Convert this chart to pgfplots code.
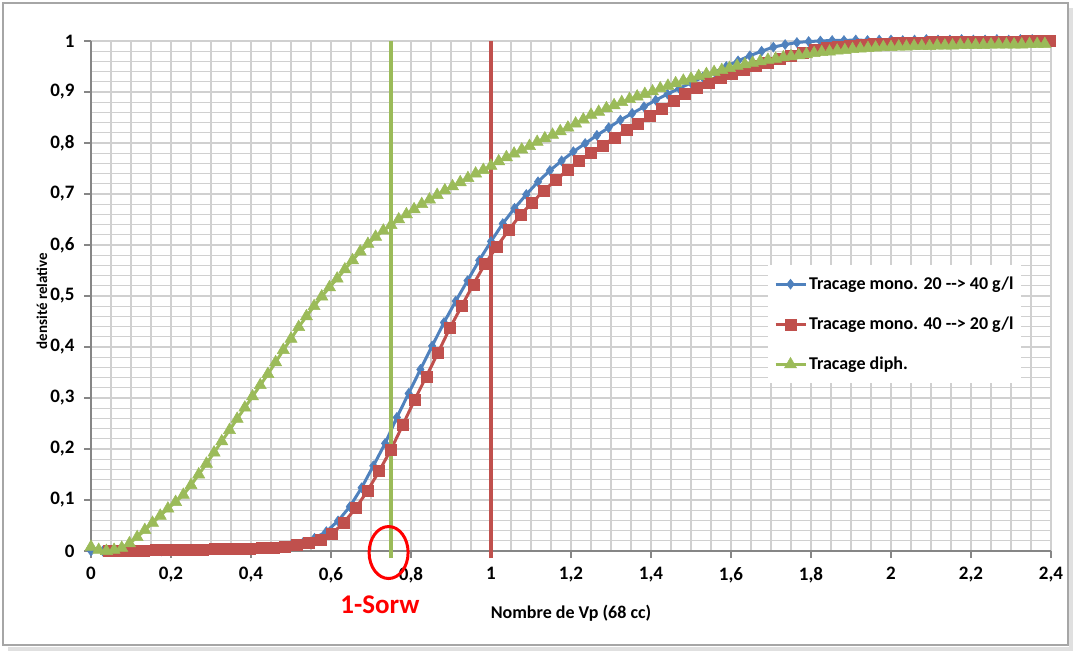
\documentclass[border=0pt]{standalone}
\usepackage{fontspec}
\setmainfont{Carlito}
\usepackage{graphicx}
\usepackage{pgfplots}
\usepackage{pgfplotstable}
\pgfplotsset{compat=1.18}
\definecolor{xblue}{HTML}{4F81BD}
\definecolor{xred}{HTML}{C0504D}
\definecolor{xgreen}{HTML}{9BBB59}
\definecolor{gridc}{HTML}{D0D0D0}
\definecolor{axc}{HTML}{868686}

\pgfplotstableread{
x y
0 0.000
0.0294 0.000
0.0588 0.000
0.0882 0.000
0.1176 0.000
0.1471 0.000
0.1765 0.000
0.2059 0.001
0.2353 0.001
0.2647 0.002
0.2941 0.002
0.3235 0.003
0.3529 0.003
0.3824 0.004
0.4118 0.005
0.4412 0.006
0.4706 0.008
0.5 0.011
0.5294 0.016
0.5588 0.025
0.5882 0.038
0.6176 0.059
0.6471 0.087
0.6765 0.124
0.7059 0.167
0.7353 0.211
0.7647 0.262
0.7941 0.309
0.8235 0.356
0.8529 0.402
0.8824 0.448
0.9118 0.490
0.9412 0.530
0.9706 0.570
1.0 0.607
1.0294 0.642
1.0588 0.672
1.0882 0.699
1.1176 0.724
1.1471 0.746
1.1765 0.765
1.2059 0.783
1.2353 0.799
1.2647 0.815
1.2941 0.830
1.3235 0.845
1.3529 0.858
1.3824 0.871
1.4118 0.884
1.4412 0.896
1.4706 0.907
1.5 0.918
1.5294 0.929
1.5588 0.939
1.5882 0.950
1.6176 0.961
1.6471 0.971
1.6765 0.980
1.7059 0.988
1.7353 0.993
1.7647 0.997
1.7941 0.999
1.8235 1.000
1.8529 1.001
1.8824 1.001
1.9118 1.002
1.9412 1.001
1.9706 1.002
2.0 1.002
2.0294 1.001
2.0588 1.002
2.0882 1.003
2.1176 1.002
2.1471 1.002
2.1765 1.003
2.2059 1.002
2.2353 1.002
2.2647 1.003
2.2941 1.002
2.3235 1.003
2.3529 1.003
}\blue

\pgfplotstableread{
x y
0.0441 0.000
0.0735 0.000
0.1029 0.001
0.1324 0.001
0.1618 0.002
0.1912 0.002
0.2206 0.003
0.25 0.003
0.2794 0.003
0.3088 0.004
0.3382 0.004
0.3676 0.005
0.3971 0.005
0.4265 0.006
0.4559 0.007
0.4853 0.009
0.5147 0.012
0.5441 0.016
0.5735 0.023
0.6029 0.034
0.6324 0.056
0.6618 0.084
0.6912 0.118
0.7206 0.157
0.75 0.199
0.7794 0.247
0.8088 0.296
0.8382 0.342
0.8676 0.389
0.8971 0.437
0.9265 0.480
0.9559 0.523
0.9853 0.563
1.0147 0.597
1.0441 0.629
1.0735 0.659
1.1029 0.683
1.1324 0.707
1.1618 0.727
1.1912 0.747
1.2206 0.765
1.25 0.780
1.2794 0.795
1.3088 0.811
1.3382 0.826
1.3676 0.838
1.3971 0.853
1.4265 0.868
1.4559 0.883
1.4853 0.897
1.5147 0.909
1.5441 0.918
1.5735 0.928
1.6029 0.936
1.6324 0.944
1.6618 0.951
1.6912 0.958
1.7206 0.965
1.75 0.971
1.7794 0.977
1.8088 0.982
1.8382 0.986
1.8676 0.989
1.8971 0.991
1.9265 0.993
1.9559 0.994
1.9853 0.995
2.0147 0.996
2.0441 0.997
2.0735 0.997
2.1029 0.998
2.1324 0.998
2.1618 0.998
2.1912 0.999
2.2206 0.999
2.25 0.999
2.2794 0.999
2.3088 0.999
2.3382 1.000
2.3676 1.000
2.3971 1.000
}\red

\pgfplotstableread{
x y
0 0.008
0.0192 0.002
0.0385 0.000
0.0577 0.002
0.0769 0.006
0.0962 0.015
0.1154 0.027
0.1346 0.041
0.1538 0.055
0.1731 0.069
0.1923 0.083
0.2115 0.096
0.2308 0.110
0.25 0.129
0.2692 0.150
0.2885 0.171
0.3077 0.193
0.3269 0.215
0.3462 0.237
0.3654 0.259
0.3846 0.281
0.4038 0.303
0.4231 0.325
0.4423 0.347
0.4615 0.370
0.4808 0.394
0.5 0.416
0.5192 0.439
0.5385 0.460
0.5577 0.480
0.5769 0.499
0.5962 0.517
0.6154 0.534
0.6346 0.552
0.6538 0.570
0.6731 0.587
0.6923 0.602
0.7115 0.616
0.7308 0.628
0.75 0.639
0.7692 0.650
0.7885 0.660
0.8077 0.670
0.8269 0.680
0.8462 0.689
0.8654 0.698
0.8846 0.707
0.9038 0.715
0.9231 0.723
0.9423 0.731
0.9615 0.740
0.9808 0.747
1.0 0.755
1.0192 0.764
1.0385 0.772
1.0577 0.779
1.0769 0.787
1.0962 0.794
1.1154 0.802
1.1346 0.809
1.1538 0.816
1.1731 0.823
1.1923 0.830
1.2115 0.838
1.2308 0.846
1.25 0.855
1.2692 0.861
1.2885 0.868
1.3077 0.874
1.3269 0.880
1.3462 0.886
1.3654 0.891
1.3846 0.896
1.4038 0.901
1.4231 0.907
1.4423 0.912
1.4615 0.917
1.4808 0.922
1.5 0.926
1.5192 0.931
1.5385 0.935
1.5577 0.939
1.5769 0.943
1.5962 0.947
1.6154 0.951
1.6346 0.954
1.6538 0.957
1.6731 0.960
1.6923 0.963
1.7115 0.965
1.7308 0.968
1.75 0.970
1.7692 0.972
1.7885 0.974
1.8077 0.976
1.8269 0.978
1.8462 0.979
1.8654 0.981
1.8846 0.982
1.9038 0.984
1.9231 0.985
1.9423 0.986
1.9615 0.987
1.9808 0.988
2.0 0.988
2.0192 0.989
2.0385 0.989
2.0577 0.990
2.0769 0.990
2.0962 0.990
2.1154 0.991
2.1346 0.991
2.1538 0.991
2.1731 0.992
2.1923 0.992
2.2115 0.992
2.2308 0.992
2.25 0.993
2.2692 0.993
2.2885 0.993
2.3077 0.993
2.3269 0.993
2.3462 0.994
2.3654 0.994
2.3846 0.994
}\green

\begin{document}
\begin{tikzpicture}
\path (0pt,0pt) rectangle (1075pt,653pt);
\draw[black!12, line width=4pt] (8pt,4pt) -- (1071pt,4pt) -- (1071pt,645pt);
\draw[black!35, line width=1.2pt] (3pt,8pt) rectangle (1068pt,650pt);
\node[anchor=center, inner sep=0pt, font=\fontsize{15}{17}\selectfont\bfseries] at (42pt,352pt) {\rotatebox{90}{densité relative}};
\begin{axis}[
  at={(91pt,102pt)}, anchor=south west,
  scale only axis, width=960pt, height=510pt,
  xmin=0, xmax=2.4, ymin=0, ymax=1,
  clip=false,
  xtick={0,0.2,0.4,0.6,0.8,1,1.2,1.4,1.6,1.8,2,2.2,2.4},
  ytick={0,0.1,0.2,0.3,0.4,0.5,0.6,0.7,0.8,0.9,1},
  minor x tick num=3, minor y tick num=4,
  grid=both,
  major grid style={gridc, line width=1.3pt},
  minor grid style={gridc, line width=1.3pt},
  axis x line=bottom, axis y line=left,
  axis line style={axc, line width=1.5pt, -},
  tick align=outside, major tick length=7pt, minor tick length=0pt,
  tick style={axc, line width=1.5pt},
  /pgf/number format/.cd, use comma, assume math mode=true,
  /pgfplots/.cd,
  ticklabel style={font=\fontsize{19}{21}\selectfont\bfseries, text=black},
  xticklabel style={yshift=-6pt},
  yticklabel style={xshift=-6pt},
  xlabel={Nombre de Vp (68 cc)},
  xlabel style={at={(axis description cs:0.5,0)}, anchor=center, yshift=-62pt, font=\fontsize{18}{20}\selectfont\bfseries},
  legend style={at={(0.705,0.561)}, anchor=north west, draw=none, fill=white,
    font=\fontsize{18}{20}\selectfont\bfseries, row sep=22pt, inner xsep=6pt, inner ysep=10pt},
  legend cell align=left,
  legend image code/.code={\draw[mark repeat=2, mark phase=2] plot coordinates {(0pt,0pt)(15pt,0pt)(30pt,0pt)};},
]
\addplot[xblue, line width=3pt, mark=diamond*, mark size=5pt, mark options={solid, fill=xblue, line width=0.5pt}] table {\blue};
\addlegendentry{Tracage mono. 20 -{}-{}> 40 g/l}
\addplot[xred, line width=3pt, mark=square*, mark size=5.5pt, mark options={solid, fill=xred, line width=0.5pt}] table {\red};
\addlegendentry{Tracage mono. 40 -{}-{}> 20 g/l}
\addplot[xgreen, line width=3pt, mark=triangle*, mark size=7pt, mark options={solid, fill=xgreen, line width=0.5pt}] table {\green};
\addlegendentry{Tracage diph.}
\addplot[xgreen, line width=4pt, forget plot] coordinates {(0.75,-0.014) (0.75,1)};
\addplot[xred, line width=4pt, forget plot] coordinates {(1.0,-0.014) (1.0,1)};
\draw[red, line width=3pt] (axis cs:0.744,-0.003) ellipse [x radius=19.5pt, y radius=26pt];
\node[text=red, font=\fontsize{27}{30}\selectfont\bfseries] at (axis cs:0.7225,-0.106) {1-Sorw};
\end{axis}
\end{tikzpicture}
\end{document}
